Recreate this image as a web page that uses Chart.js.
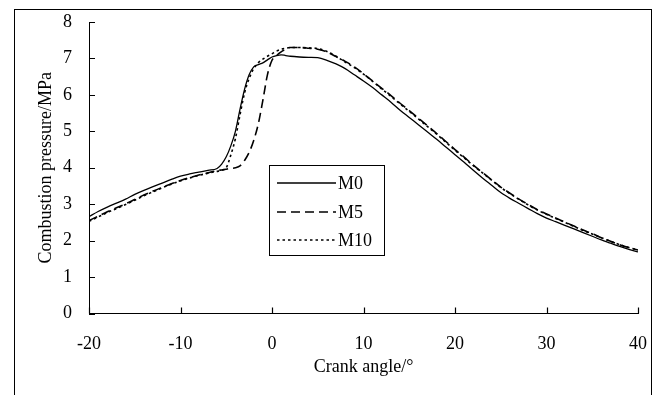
<!DOCTYPE html>
<html>
<head>
<meta charset="utf-8">
<script src="https://cdn.jsdelivr.net/npm/chart.js@4/dist/chart.umd.min.js"></script>
<style>
  html, body { margin: 0; padding: 0; background: #fff; overflow: hidden; }
  #wrap { position: relative; width: 658px; height: 395px; }
  #frame { position: absolute; left: 14px; top: 9px; width: 638px; height: 420px; border: 1px solid #000; box-sizing: border-box; pointer-events: none; }
  canvas { position: absolute; left: 0; top: 0; }
</style>
</head>
<body>
<div id="wrap">
  <canvas id="c" width="658" height="395"></canvas>
  <div id="frame"></div>
</div>
<script>
// Crank angle (deg)
const angles = [
  -20, -19, -18, -17, -16, -15, -14, -13, -12, -11, -10, -9, -8, -7,
  -6, -5.5, -5, -4.5, -4, -3.5, -3, -2.5, -2, -1.5, -1, -0.5, 0, 0.5, 1, 1.5, 2,
  3, 4, 5, 6, 7, 8, 9, 10, 11, 12, 13, 14, 15, 16, 17, 18, 19, 20,
  21, 22, 23, 24, 25, 26, 27, 28, 29, 30, 31, 32, 33, 34, 35, 36, 37, 38, 39, 40
];
// Combustion pressure (MPa)
const m0 = [
  2.66, 2.80, 2.92, 3.03, 3.14, 3.27, 3.38, 3.48, 3.58, 3.68, 3.77, 3.83, 3.88, 3.93,
  3.98, 4.10, 4.30, 4.60, 5.00, 5.60, 6.15, 6.55, 6.77, 6.83, 6.88, 6.96, 7.04, 7.08, 7.10, 7.08, 7.06,
  7.04, 7.03, 7.02, 6.95, 6.85, 6.72, 6.55, 6.38, 6.20, 6.00, 5.80, 5.58, 5.38, 5.18, 4.98, 4.78, 4.57, 4.36,
  4.15, 3.93, 3.72, 3.52, 3.32, 3.16, 3.02, 2.88, 2.74, 2.62, 2.52, 2.42, 2.32, 2.22, 2.12, 2.02, 1.93, 1.84, 1.76, 1.69
];
const m5 = [
  2.55, 2.67, 2.79, 2.90, 3.01, 3.13, 3.25, 3.36, 3.46, 3.56, 3.65, 3.73, 3.80, 3.86,
  3.92, 3.94, 3.96, 3.98, 4.00, 4.05, 4.20, 4.42, 4.75, 5.20, 5.85, 6.55, 6.95, 7.08, 7.18, 7.25, 7.30,
  7.30, 7.28, 7.25, 7.18, 7.05, 6.92, 6.77, 6.58, 6.38, 6.18, 5.98, 5.77, 5.57, 5.36, 5.15, 4.94, 4.72, 4.50,
  4.29, 4.07, 3.87, 3.67, 3.47, 3.30, 3.14, 2.99, 2.85, 2.73, 2.62, 2.51, 2.40, 2.29, 2.19, 2.08, 1.98, 1.89, 1.81, 1.74
];
const m10 = [
  2.53, 2.65, 2.77, 2.88, 2.99, 3.11, 3.23, 3.34, 3.45, 3.55, 3.64, 3.72, 3.79, 3.85,
  3.90, 3.93, 4.00, 4.35, 4.80, 5.45, 6.05, 6.45, 6.72, 6.88, 6.98, 7.06, 7.13, 7.20, 7.25, 7.28, 7.30,
  7.30, 7.29, 7.27, 7.19, 7.06, 6.90, 6.75, 6.57, 6.37, 6.16, 5.96, 5.75, 5.55, 5.34, 5.13, 4.92, 4.70, 4.48,
  4.27, 4.06, 3.86, 3.66, 3.46, 3.29, 3.13, 2.98, 2.84, 2.72, 2.61, 2.50, 2.39, 2.28, 2.18, 2.08, 1.98, 1.89, 1.81, 1.75
];
const seriesNames = ['M0', 'M5', 'M10'];
const xTicks = [-20, -10, 0, 10, 20, 30, 40];
const yTicks = [0, 1, 2, 3, 4, 5, 6, 7, 8];

const FONT = '"Liberation Serif", "Times New Roman", serif';
const toPts = arr => angles.map((a, i) => ({ x: a, y: arr[i] }));

const styles = [
  { borderDash: [], borderWidth: 1.3 },
  { borderDash: [9, 5], borderWidth: 1.6 },
  { borderDash: [2.5, 3], borderWidth: 1.6 }
];

// inward tick marks drawn through the library's scales, plus the framed legend
const overlay = {
  id: 'overlay',
  afterDraw(chart) {
    const ctx = chart.ctx;
    const xs = chart.scales.x, ys = chart.scales.y;
    const area = chart.chartArea;
    ctx.save();
    ctx.strokeStyle = '#000';
    ctx.lineWidth = 1.2;
    ctx.setLineDash([]);
    ctx.beginPath();
    xTicks.forEach(v => {
      const px = Math.round(xs.getPixelForValue(v)) + 0.5;
      ctx.moveTo(px, area.bottom);
      ctx.lineTo(px, area.bottom - 6);
    });
    yTicks.forEach(v => {
      const py = Math.round(ys.getPixelForValue(v)) + 0.5;
      ctx.moveTo(area.left, py);
      ctx.lineTo(area.left + 6, py);
    });
    ctx.stroke();

    const x0 = 269.5, y0 = 165.5, w = 115, h = 90;
    ctx.lineWidth = 1;
    ctx.strokeRect(x0, y0, w, h);
    const rows = [183, 212, 240];
    chart.data.datasets.forEach((ds, i) => {
      ctx.beginPath();
      ctx.setLineDash(ds.borderDash || []);
      ctx.lineWidth = ds.borderWidth;
      ctx.moveTo(277, rows[i]);
      ctx.lineTo(336, rows[i]);
      ctx.stroke();
      ctx.setLineDash([]);
      ctx.fillStyle = '#000';
      ctx.font = '18px ' + FONT;
      ctx.textBaseline = 'middle';
      ctx.textAlign = 'left';
      ctx.fillText(ds.label, 338, rows[i] + 1);
    });
    ctx.restore();
  }
};

new Chart(document.getElementById('c'), {
  type: 'line',
  data: {
    datasets: [m0, m5, m10].map((arr, i) => ({
      label: seriesNames[i],
      data: toPts(arr),
      borderColor: '#000',
      backgroundColor: '#000',
      borderWidth: styles[i].borderWidth,
      borderDash: styles[i].borderDash,
      pointRadius: 0,
      cubicInterpolationMode: 'monotone',
      fill: false
    }))
  },
  options: {
    responsive: false,
    animation: false,
    layout: { padding: { top: 22, right: 20, left: 0, bottom: 0 } },
    plugins: { legend: { display: false }, tooltip: { enabled: false } },
    scales: {
      x: {
        type: 'linear',
        min: -20, max: 40,
        afterBuildTicks: s => { s.ticks = xTicks.map(v => ({ value: v })); },
        afterFit: s => { s.height = 81.5; s.paddingLeft = 0; s.paddingRight = 0; },
        grid: { display: true, drawOnChartArea: false, drawTicks: false },
        border: { display: true, color: '#000', width: 1 },
        ticks: { color: '#000', font: { family: FONT, size: 18 }, padding: 20, maxRotation: 0 },
        title: { display: true, text: 'Crank angle/°', color: '#000', font: { family: FONT, size: 18 }, padding: { top: 0, bottom: 17 } }
      },
      y: {
        min: 0, max: 8,
        afterBuildTicks: s => { s.ticks = yTicks.map(v => ({ value: v })); },
        afterFit: s => { s.width = 89; s.paddingTop = 0; s.paddingBottom = 0; },
        grid: { display: true, drawOnChartArea: false, drawTicks: false },
        border: { display: true, color: '#000', width: 1 },
        ticks: { color: '#000', font: { family: FONT, size: 18 }, padding: 17 },
        title: { display: true, text: 'Combustion pressure/MPa', color: '#000', font: { family: FONT, size: 18 }, padding: { top: 35, bottom: 0 } }
      }
    }
  },
  plugins: [overlay]
});
</script>
</body>
</html>
